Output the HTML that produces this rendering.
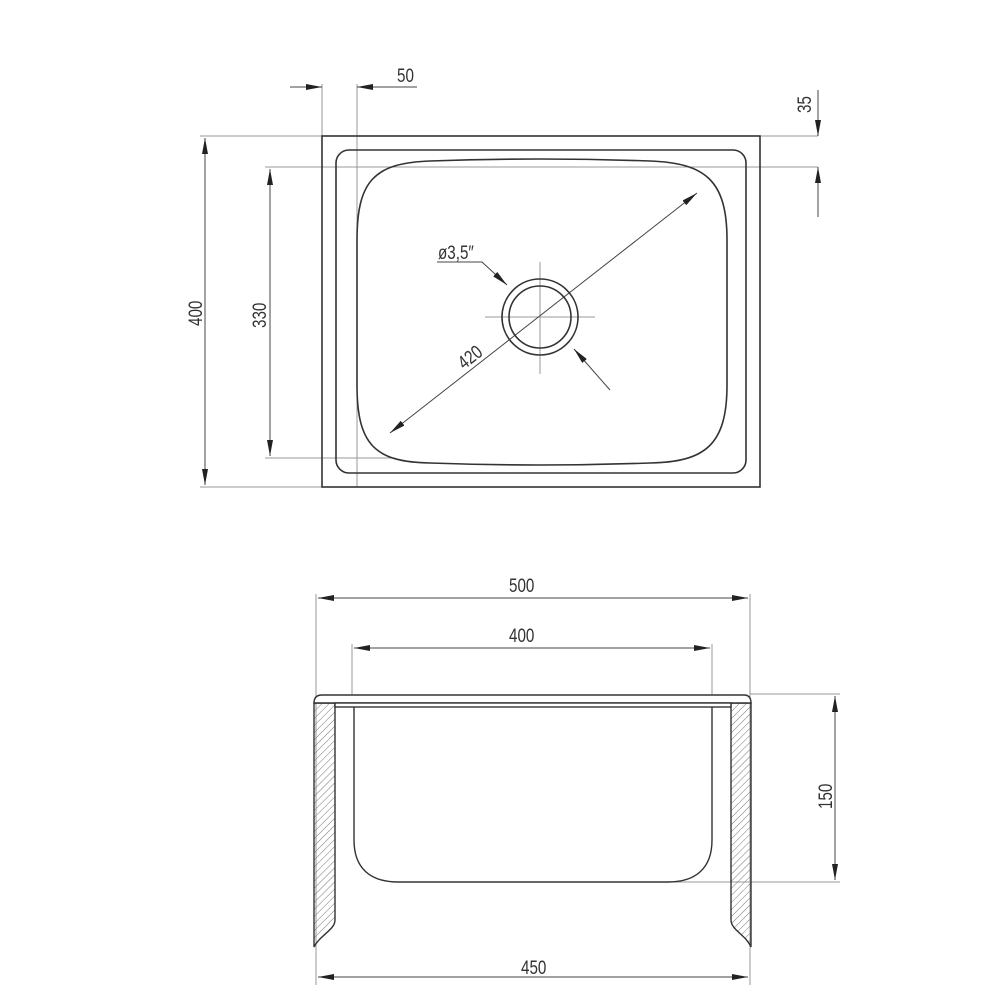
<!DOCTYPE html>
<html><head><meta charset="utf-8"><style>
html,body{margin:0;padding:0;background:#fff}
svg{display:block}
text{font-family:"Liberation Sans",sans-serif;font-size:19px;fill:#333}
</style></head><body>
<svg width="1000" height="1000" viewBox="0 0 1000 1000" xmlns="http://www.w3.org/2000/svg">
<defs>
<marker id="a" viewBox="0 0 16 6" refX="16" refY="3" markerWidth="16" markerHeight="6" markerUnits="userSpaceOnUse" orient="auto-start-reverse"><path d="M0,0 L16,3 L0,6 Z" fill="#222"/></marker>
<pattern id="h" patternUnits="userSpaceOnUse" width="5" height="5" patternTransform="rotate(45)"><line x1="0" y1="0" x2="0" y2="5" stroke="#777" stroke-width="1"/></pattern>
</defs>
<g fill="none" stroke="#999" stroke-width="1">
<line x1="200" y1="136" x2="818" y2="136"/>
<line x1="265" y1="167" x2="818" y2="167"/>
<line x1="265" y1="458" x2="395" y2="458"/>
<line x1="200" y1="487" x2="335" y2="487"/>
<line x1="322" y1="84" x2="322" y2="136"/>
<line x1="357" y1="84" x2="357" y2="487"/>
<line x1="540" y1="262" x2="540" y2="374"/>
<line x1="485" y1="317" x2="595" y2="317"/>
</g>
<g fill="none" stroke="#444" stroke-width="1">
<line x1="205" y1="138" x2="205" y2="485" marker-start="url(#a)" marker-end="url(#a)"/>
<line x1="270" y1="169" x2="270" y2="456" marker-start="url(#a)" marker-end="url(#a)"/>
<line x1="290" y1="87" x2="322" y2="87" marker-end="url(#a)"/>
<line x1="417" y1="87" x2="357" y2="87" marker-end="url(#a)"/>
<line x1="818" y1="90" x2="818" y2="136" marker-end="url(#a)"/>
<line x1="818" y1="217" x2="818" y2="167" marker-end="url(#a)"/>
<line x1="390" y1="433" x2="697" y2="193" marker-start="url(#a)" marker-end="url(#a)"/>
<polyline points="437,262 482,262 507,285" marker-end="url(#a)"/>
<line x1="610" y1="390" x2="574" y2="349" marker-end="url(#a)"/>
</g>
<g fill="none" stroke="#333" stroke-width="1.6">
<rect x="322" y="136" width="438" height="351"/>
<rect x="336" y="150" width="410" height="323" rx="13"/>
<path d="M430,161 Q540,157 650,161 C705,163 727,180 727,240 L727,385 C727,445 705,462 650,463 Q540,467 430,463 C375,462 357,445 357,385 L357,240 C357,180 375,163 430,161 Z"/>
<circle cx="540" cy="317" r="38"/>
<circle cx="540" cy="317" r="31"/>
</g>
<text transform="translate(397,82) scale(0.8,1)">50</text>
<text transform="translate(438,259) scale(0.8,1)">ø3,5″</text>
<text transform="translate(811,113) rotate(-90) scale(0.8,1)">35</text>
<text transform="translate(202,326) rotate(-90) scale(0.8,1)">400</text>
<text transform="translate(266,328) rotate(-90) scale(0.8,1)">330</text>
<text transform="translate(464,370) rotate(-38) scale(0.8,1)">420</text>

<g fill="none" stroke="#999" stroke-width="1">
<line x1="316" y1="594" x2="316" y2="985"/>
<line x1="750" y1="594" x2="750" y2="985"/>
<line x1="352" y1="644" x2="352" y2="694"/>
<line x1="712" y1="644" x2="712" y2="694"/>
<line x1="750" y1="694" x2="840" y2="694"/>
<line x1="640" y1="882" x2="840" y2="882"/>
</g>
<g fill="none" stroke="#444" stroke-width="1">
<line x1="318" y1="598" x2="748" y2="598" marker-start="url(#a)" marker-end="url(#a)"/>
<line x1="354" y1="648" x2="710" y2="648" marker-start="url(#a)" marker-end="url(#a)"/>
<line x1="835" y1="696" x2="835" y2="880" marker-start="url(#a)" marker-end="url(#a)"/>
<line x1="318" y1="977" x2="748" y2="977" marker-start="url(#a)" marker-end="url(#a)"/>
</g>
<g stroke="#333" stroke-width="1.4">
<path d="M314,703 L335,703 L335,920 C335,930 320,935 314,947 Z" fill="url(#h)"/>
<path d="M751,703 L731,703 L731,920 C731,930 746,935 751,947 Z" fill="url(#h)"/>
<path d="M322,695 L744,695 Q751,695 751,703 L314,703 Q314,695 322,695 Z" fill="#fff"/>
<rect x="335" y="703" width="396" height="4" fill="#fff"/>
<path d="M354,707 L354,840 C354,868 370,882 398,882 L668,882 C696,882 712,868 712,840 L712,707" fill="none"/>
</g>
<text transform="translate(509,592) scale(0.8,1)">500</text>
<text transform="translate(509,642) scale(0.8,1)">400</text>
<text transform="translate(521,974) scale(0.8,1)">450</text>
<text transform="translate(832,809) rotate(-90) scale(0.8,1)">150</text>
</svg>
</body></html>
